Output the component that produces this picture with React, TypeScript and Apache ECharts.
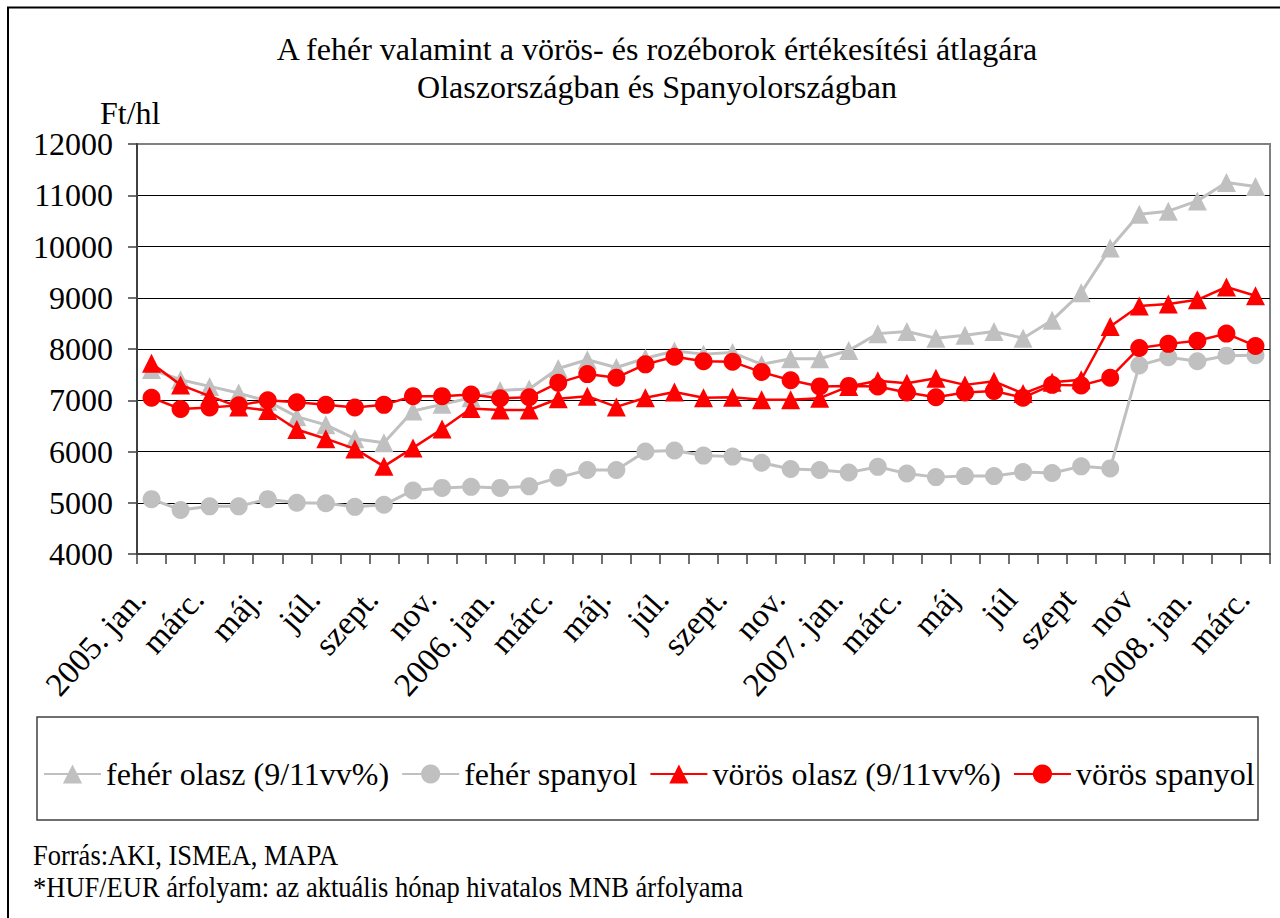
import React, { useEffect, useRef } from "react";
import * as echarts from "echarts";

const months = [
  "2005. jan.", "febr.", "márc.", "ápr.", "máj.", "jún.", "júl.", "aug.", "szept.", "okt.", "nov.", "dec.",
  "2006. jan.", "febr.", "márc.", "ápr.", "máj.", "jún.", "júl.", "aug.", "szept.", "okt.", "nov.", "dec.",
  "2007. jan.", "febr.", "márc.", "ápr", "máj", "jún", "júl", "aug", "szept", "okt", "nov", "dec",
  "2008. jan.", "febr.", "márc.",
];

const feherOlasz = [
  7600, 7400, 7270, 7140, 6980, 6680, 6520, 6250, 6170, 6790, 6920, 7050,
  7190, 7220, 7620, 7790, 7640, 7820, 7960, 7900, 7930, 7700, 7810, 7810,
  7970, 8300, 8340, 8210, 8270, 8340, 8210, 8560, 9100, 9970, 10630, 10690,
  10890, 11250, 11170,
];
const feherSpanyol = [
  5070, 4860, 4930, 4930, 5070, 5000, 4990, 4920, 4960, 5240, 5290, 5310,
  5290, 5320, 5490, 5640, 5640, 6000, 6020, 5920, 5900, 5780, 5660, 5640,
  5590, 5700, 5570, 5500, 5520, 5520, 5600, 5580, 5710, 5670, 7680, 7840,
  7760, 7870, 7880,
];
const vorosOlasz = [
  7720, 7300, 7080, 6870, 6800, 6430, 6250, 6050, 5710, 6070, 6440, 6840,
  6810, 6810, 7030, 7080, 6870, 7050, 7160, 7050, 7060, 7010, 7010, 7040,
  7270, 7380, 7330, 7430, 7300, 7370, 7130, 7350, 7400, 8440, 8840, 8880,
  8960, 9210, 9040,
];
const vorosSpanyol = [
  7050, 6830, 6860, 6900, 7000, 6960, 6910, 6860, 6910, 7080, 7080, 7110,
  7040, 7060, 7340, 7510, 7440, 7700, 7850, 7760, 7750, 7550, 7390, 7270,
  7280, 7270, 7150, 7060, 7150, 7180, 7050, 7300, 7290, 7440, 8020, 8100,
  8160, 8300, 8060,
];

const seriesNames = [
  "fehér olasz (9/11vv%)",
  "fehér spanyol",
  "vörös olasz (9/11vv%)",
  "vörös spanyol",
];

const titleLines = [
  "A fehér valamint a vörös- és rozéborok értékesítési átlagára",
  "Olaszországban és Spanyolországban",
];
const unitLabel = "Ft/hl";
const sourceNote = "Forrás:AKI, ISMEA, MAPA";
const fxNote = "*HUF/EUR árfolyam: az aktuális hónap hivatalos MNB árfolyama";

const yMin = 4000;
const yMax = 12000;
const yStep = 1000;

const FONT = "Liberation Serif";
const GRAY = "#C0C0C0";
const RED = "#FF0000";

export default function App() {
  const ref = useRef<HTMLDivElement>(null);

  useEffect(() => {
    document.body.style.margin = "0";
    document.body.style.overflow = "hidden";
    const chart = echarts.init(ref.current as HTMLDivElement, null, { renderer: "svg" });

    const splitColors: string[] = [];
    for (let v = yMin; v <= yMax; v += yStep) {
      splitColors.push(v === yMax ? "#808080" : "#000000");
    }

    const mk = (name: string, data: number[], color: string, symbol: string, size: number, lw: number, z: number) => ({
      name,
      type: "line",
      data,
      symbol,
      symbolSize: size,
      showSymbol: true,
      lineStyle: { color, width: lw },
      itemStyle: { color },
      emphasis: { disabled: true },
      z,
    });

    const serif32 = { fontFamily: FONT, fontSize: 32, fontWeight: "normal", color: "#000" };

    chart.setOption({
      animation: false,
      backgroundColor: "#ffffff",
      textStyle: { fontFamily: FONT, color: "#000" },
      title: {
        text: titleLines.join("\n"),
        left: 652,
        top: 25,
        textAlign: "center",
        textStyle: {
          fontFamily: FONT,
          fontSize: 32,
          fontWeight: "normal",
          color: "#000",
          lineHeight: 38,
        },
      },
      grid: {
        left: 137,
        right: 10,
        top: 144,
        bottom: 364,
        show: true,
        borderColor: "#808080",
        borderWidth: 2,
        backgroundColor: "transparent",
      },
      legend: {
        left: 43,
        top: 758,
        padding: 0,
        itemWidth: 57,
        itemHeight: 24,
        itemGap: 12,
        selectedMode: false,
        data: seriesNames,
        textStyle: { ...serif32 },
      },
      xAxis: {
        type: "category",
        data: months,
        boundaryGap: true,
        axisLine: { show: true, lineStyle: { color: "#404040", width: 2 } },
        axisTick: { show: true, interval: 0, length: 10, lineStyle: { color: "#404040", width: 1.5 } },
        axisLabel: {
          interval: 1,
          rotate: 48,
          margin: 26,
          ...serif32,
          fontSize: 33,
          formatter: "{m|{value}}",
          rich: { m: { ...serif32, fontSize: 33, padding: [0, 18, 0, 0] } },
        },
        splitLine: { show: false },
      },
      yAxis: {
        type: "value",
        min: yMin,
        max: yMax,
        interval: yStep,
        axisLine: { show: true, lineStyle: { color: "#404040", width: 2 } },
        axisTick: { show: true, length: 9, lineStyle: { color: "#404040", width: 1.5 } },
        axisLabel: {
          margin: 24,
          ...serif32,
          formatter: (v: number) => String(v),
        },
        splitLine: { show: true, lineStyle: { color: splitColors, width: 1 } },
      },
      series: [
        mk(seriesNames[0], feherOlasz, GRAY, "triangle", 19, 3, 2),
        mk(seriesNames[1], feherSpanyol, GRAY, "circle", 18, 3, 3),
        mk(seriesNames[2], vorosOlasz, RED, "triangle", 19, 2.5, 4),
        mk(seriesNames[3], vorosSpanyol, RED, "circle", 18, 2.5, 5),
      ],
      graphic: [
        {
          type: "rect",
          z: 100,
          silent: true,
          shape: { x: 8, y: 7.5, width: 1300, height: 1000 },
          style: { fill: "none", stroke: "#000", lineWidth: 2 },
        },
        {
          type: "rect",
          z: 100,
          silent: true,
          shape: { x: 37, y: 717, width: 1221, height: 103 },
          style: { fill: "none", stroke: "#404040", lineWidth: 1.5 },
        },
        {
          type: "text",
          z: 100,
          x: 100,
          y: 113,
          style: { text: unitLabel, fontFamily: FONT, fontSize: 32, fill: "#000", align: "left", verticalAlign: "middle" },
        },
        {
          type: "text",
          z: 100,
          x: 33,
          y: 855,
          scaleY: 1.15,
          style: { text: sourceNote, fontFamily: FONT, fontSize: 26.5, fill: "#000", align: "left", verticalAlign: "middle" },
        },
        {
          type: "text",
          z: 100,
          x: 33,
          y: 887,
          scaleY: 1.15,
          style: { text: fxNote, fontFamily: FONT, fontSize: 26.5, fill: "#000", align: "left", verticalAlign: "middle" },
        },
      ],
    });

    return () => chart.dispose();
  }, []);

  return <div ref={ref} style={{ width: 1280, height: 918, background: "#fff" }} />;
}
